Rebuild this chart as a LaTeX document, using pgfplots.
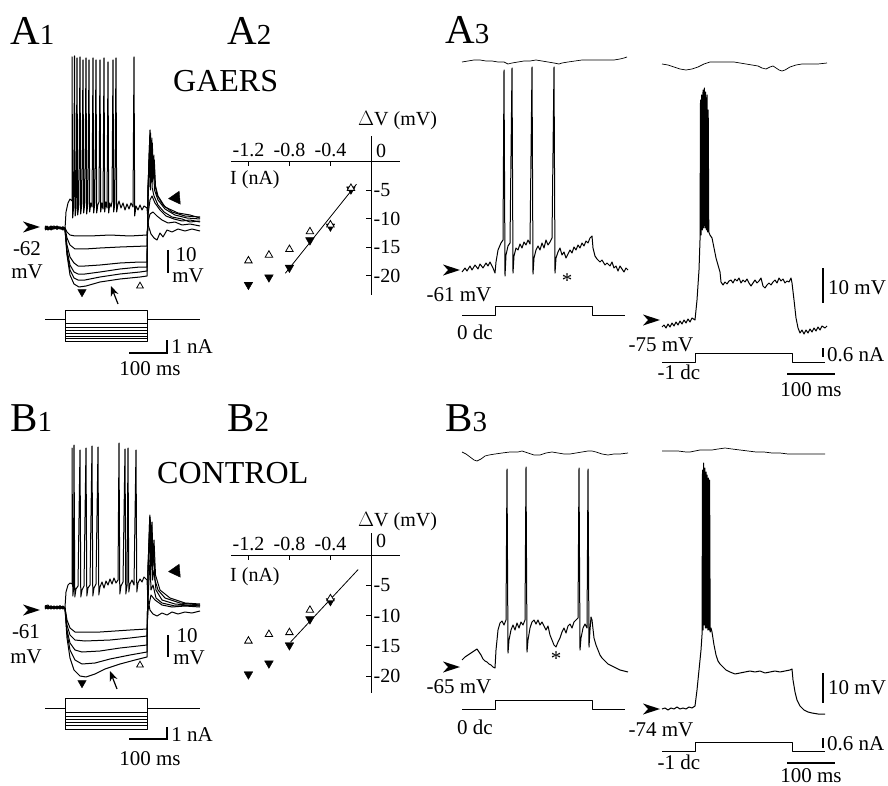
\documentclass[border=0pt]{standalone}
\usepackage{pgfplots}
\pgfplotsset{compat=1.18}
\usepackage{fontspec}
\setmainfont{Liberation Serif}
\usetikzlibrary{arrows.meta}

\newcommand\fs[1]{\fontsize{#1}{#1}\selectfont}
\newcommand\plab[2]{{\fs{41}#1}{\fs{29}#2}}

\tikzset{
  lab/.style={inner sep=0pt, font=\fs{21}},
  uparr/.style={-{Stealth[length=10pt,width=8pt]}, line width=1.2pt},
  sbar/.style={line width=2pt},
}
\pgfplotsset{
  trace/.style={black, line width=1pt, line join=round, no marks},
  stim/.style={black, line width=0.7pt, line join=round, no marks},
  opentri/.style={only marks, mark=triangle*, mark size=4.3pt, mark options={line width=0.8pt, fill=white, draw=black}},
  fulltri/.style={only marks, mark=triangle*, mark size=5pt, mark options={rotate=180, fill=black, draw=black}},
  iv/.style={x=102.5pt, xmin=-1.37, xmax=0.28,
    axis lines=middle, axis line style={-, line width=0.8pt},
    major tick length=0pt,
    xtick={-1.2,-0.8,-0.4}, xticklabels={-1.2,-0.8,-0.4},
    ytick={-20,-15,-10,-5}, yticklabels={-20,-15,-10,-5},
    xticklabel style={anchor=south, font=\fs{20}, inner sep=1pt, yshift=3pt},
    yticklabel style={anchor=west, font=\fs{20}, inner sep=2pt},
    clip=false},
}

\begin{document}
\begin{tikzpicture}
\begin{axis}[at={(0,0)}, anchor=south west, scale only axis,
  width=888pt, height=786pt, xmin=0, xmax=888, ymin=0, ymax=786,
  y dir=reverse, hide axis, clip=false]
\path (axis cs:0,0) rectangle (axis cs:888,786);

% ---------- labels ----------
\node[anchor=base west, inner sep=0pt] at (axis cs:10,45) {\plab{A}{1}};
\node[anchor=base west, inner sep=0pt] at (axis cs:227,45) {\plab{A}{2}};
\node[anchor=base west, inner sep=0pt] at (axis cs:445,44) {\plab{A}{3}};
\node[anchor=base west, inner sep=0pt] at (axis cs:10,431) {\plab{B}{1}};
\node[anchor=base west, inner sep=0pt] at (axis cs:227,431) {\plab{B}{2}};
\node[anchor=base west, inner sep=0pt] at (axis cs:445,431) {\plab{B}{3}};
\node[anchor=base west, inner sep=0pt, font=\fs{32}] at (axis cs:173,92) {GAERS};
\node[anchor=base west, inner sep=0pt, font=\fs{32}] at (axis cs:157,483) {CONTROL};

% ---------- A1 ----------
\addplot[trace] coordinates {(45,228)(47,226)(49,229)(51,227)(53,229)(55,227)(57,229)(59,227)(61,229)(63,227)(65,229)
(66,212)(68,203)(70,199)(72,201)
(72,57)(72.7,218)(73.7,206)(74.5,56)(75.2,216)(76.2,207)(77,58)(77.7,215)(78.8,205)(80,57)(80.7,214)(81.8,204)
(83,60)(83.7,213)(84.8,203)(86,58)(86.7,214)(87.8,204)(89,60)(89.7,212)(90.8,203)(92,207)(93,58)(93.7,213)(94.8,203)
(96,60)(96.7,213)(97.8,205)(99,202)(100,60)(100.7,212)(101.8,203)(103,209)(104,58)(104.7,212)(105.8,202)(107,208)
(108,62)(108.7,213)(109.8,203)(111,207)(112,202)(113,60)(113.7,212)(114.8,204)(116,58)(116.7,212)(117.8,205)(119,201)
(121,208)(123,203)(125,210)(127,204)(129,209)(131,203)(133,207)(134,57)(134.7,216)(136,206)(138,210)(140,205)(142,210)(144,206)(147,208)
(148.5,226)(151,234)(154,238)(157,240)(160,233)(163,237)(167,230)(172,232)(178,229)(185,231)(192,229)(200,231)};
\addplot[trace] coordinates {(45,226)(48,228)(51,226)(54,228)(57,226)(60,228)(63,227)(65,228)(67,232)(70,235)(75,236)(90,236)(110,235)(130,236)(147,235)
(148,222)(150,214)(153,212)(157,216)(162,220)(168,223)(175,222)(182,225)(190,224)(200,226)};
\addplot[trace] coordinates {(45,229)(48,227)(51,229)(54,227)(57,229)(60,227)(63,229)(65,228)(67,238)(70,245)(75,249)(85,249)(100,248)(120,247)(147,246)
(148,215)(150,200)(152,196)(155,203)(160,210)(166,216)(174,219)(182,221)(190,220)(200,222)};
\addplot[trace] coordinates {(45,227)(48,229)(51,227)(54,226)(57,228)(60,227)(63,229)(65,229)(67,245)(70,257)(74,263)(78,266)(85,266)(100,265)(120,263)(140,262)(147,262)
(148,205)(149.5,150)(150.3,190)(151.2,160)(152.2,188)(154,196)(158,205)(164,212)(172,217)(182,219)(190,222)(200,221)};
\addplot[trace] coordinates {(45,230)(48,228)(51,229)(54,227)(57,229)(60,228)(63,227)(65,229)(67,250)(70,265)(74,272)(78,274)(85,274)(100,272)(120,269)(140,267)(147,267)
(148,195)(149.8,135)(150.6,180)(151.5,148)(152.4,182)(153.4,165)(154.5,190)(158,200)(165,209)(175,215)(187,218)(200,219)};
\addplot[trace] coordinates {(45,228)(48,230)(51,228)(54,229)(57,227)(60,229)(63,228)(65,229)(67,253)(70,270)(74,278)(78,280)(85,280)(100,277)(120,274)(140,272)(147,271)
(148,190)(150,130)(150.8,172)(151.8,138)(152.8,175)(153.8,155)(155,185)(157,195)(163,205)(172,212)(185,216)(200,217)};
\addplot[trace] coordinates {(45,229)(48,227)(51,230)(54,228)(57,229)(60,228)(63,230)(65,229)(67,255)(70,275)(74,284)(79,287)(86,286)(100,282)(120,279)(140,277)(147,276)
(148,185)(150.5,133)(151.3,168)(152.3,143)(153.3,172)(154.3,160)(155.5,186)(158,196)(165,207)(178,213)(190,215)(200,218)};
% stimulus
\addplot[stim] coordinates {(45,319)(65,319)};
\addplot[stim] coordinates {(147,319)(200,319)};
\addplot[stim] coordinates {(65,341)(65,310)(147,310)(147,341)(65,341)};
\addplot[stim] coordinates {(65,323)(147,323)};
\addplot[stim] coordinates {(65,327)(147,327)};
\addplot[stim] coordinates {(65,330)(147,330)};
\addplot[stim] coordinates {(65,333)(147,333)};
\addplot[stim] coordinates {(65,336)(147,336)};
\addplot[stim] coordinates {(65,338.5)(147,338.5)};
% markers
\addplot[fulltri, mark size=4.8pt] coordinates {(82,292)};
\addplot[opentri, mark size=3.8pt] coordinates {(140,286)};
\addplot[only marks, mark=triangle*, mark size=7.5pt, mark options={rotate=95, fill=black}] coordinates {(176,198)};
\draw[uparr] (axis cs:118,304) -- (axis cs:111,286);
\fill (axis cs:23,221.5) -- (axis cs:40,227) -- (axis cs:23,232.5) -- (axis cs:28,227) -- cycle;
\node[lab] at (axis cs:27,249) {-62};
\node[lab] at (axis cs:27,272) {mV};
\draw[sbar] (axis cs:168,250) -- (axis cs:168,273);
\node[lab] at (axis cs:186,255) {10};
\node[lab] at (axis cs:188,276) {mV};
\draw[sbar] (axis cs:129,353) -- (axis cs:167,353) -- (axis cs:167,340);
\node[lab] at (axis cs:192,347) {1 nA};
\node[lab] at (axis cs:150,369) {100 ms};

% ---------- B1 ----------
\addplot[trace] coordinates {(45,606)(48,605)(51,608)(54,606)(57,608)(60,606)(63,608)(65,607)
(66,592)(68,585)(70,583)(72,584)
(72,448)(72.8,596)(73.5,590)(74,445)(74.8,597)(76,589)(78,586)(80,450)(80.8,597)(82,590)(84,586)(86,448)(86.8,596)(88,588)(90,585)
(92,446)(92.8,596)(94,588)(96,584)(98,447)(98.8,595)(100,587)(102,582)(104,588)(106,581)(108,585)(110,579)(112,584)(114,578)(116,583)(118,580)
(119,443)(119.8,594)(121,586)(123,582)(125,449)(125.8,594)(127,586)(128,448)(128.8,592)(130,584)(132,580)(134,585)
(136,450)(136.8,592)(138,583)(140,579)(142,582)(144,577)(147,580)
(148,600)(150,610)(153,614)(157,616)(162,613)(167,615)(172,612)(178,614)(185,612)(192,613)(200,611)};
\addplot[trace] coordinates {(45,608)(48,606)(51,608)(54,607)(57,608)(60,606)(63,608)(65,608)(67,620)(70,628)(75,632)(100,632)(130,630)(147,629)
(148,610)(151,595)(155,600)(162,605)(172,607)(185,606)(200,607)};
\addplot[trace] coordinates {(45,606)(48,608)(51,606)(54,608)(57,606)(60,608)(63,606)(65,608)(67,625)(70,635)(75,640)(85,641)(110,640)(130,638)(147,636)
(148,600)(150,560)(151,590)(153,585)(156,598)(162,603)(175,606)(200,605)};
\addplot[trace] coordinates {(45,609)(48,607)(51,609)(54,607)(57,609)(60,607)(63,609)(65,608)(67,630)(70,643)(75,650)(82,652)(100,651)(120,648)(147,645)
(148,580)(149.5,525)(150.5,575)(151.5,540)(152.5,580)(154,570)(156,590)(162,600)(175,604)(200,606)};
\addplot[trace] coordinates {(45,607)(48,609)(51,607)(54,609)(57,607)(60,609)(63,607)(65,608)(67,633)(70,650)(75,660)(82,664)(95,663)(110,659)(130,655)(147,652)
(148,570)(149.8,515)(150.7,565)(151.7,525)(152.7,570)(153.7,545)(155,580)(158,590)(165,598)(180,603)(200,605)};
\addplot[trace] coordinates {(45,606)(48,608)(51,606)(54,608)(57,607)(60,606)(63,608)(65,608)(67,638)(70,658)(74,670)(80,676)(86,677)(95,674)(105,669)(120,664)(135,660)(147,657)
(148,565)(150.2,517)(151,560)(152,522)(153,565)(154,540)(155.5,575)(160,590)(170,598)(185,603)(200,604)};
\addplot[stim] coordinates {(45,708)(65,708)};
\addplot[stim] coordinates {(147,708)(200,708)};
\addplot[stim] coordinates {(65,729)(65,698)(147,698)(147,729)(65,729)};
\addplot[stim] coordinates {(65,712)(147,712)};
\addplot[stim] coordinates {(65,716)(147,716)};
\addplot[stim] coordinates {(65,719)(147,719)};
\addplot[stim] coordinates {(65,722)(147,722)};
\addplot[stim] coordinates {(65,725)(147,725)};
\addplot[fulltri, mark size=4.8pt] coordinates {(82,683)};
\addplot[opentri, mark size=3.8pt] coordinates {(140,665)};
\addplot[only marks, mark=triangle*, mark size=7.5pt, mark options={rotate=95, fill=black}] coordinates {(176,571)};
\draw[uparr] (axis cs:117,689) -- (axis cs:110,671);
\fill (axis cs:23,604.5) -- (axis cs:40,610) -- (axis cs:23,615.5) -- (axis cs:28,610) -- cycle;
\node[lab] at (axis cs:26,632) {-61};
\node[lab] at (axis cs:26,657) {mV};
\draw[sbar] (axis cs:168,635) -- (axis cs:168,657);
\node[lab] at (axis cs:187,636) {10};
\node[lab] at (axis cs:189,658) {mV};
\draw[sbar] (axis cs:129,739) -- (axis cs:167,739) -- (axis cs:167,727);
\node[lab] at (axis cs:192,735) {1 nA};
\node[lab] at (axis cs:150,759) {100 ms};

% ---------- A2 / B2 text ----------
\node[lab, font=\fs{20}, anchor=west] at (axis cs:358,121) {$\Delta$V (mV)};
\node[lab, font=\fs{20}, anchor=west] at (axis cs:230,180) {I (nA)};
\node[lab, font=\fs{20}] at (axis cs:381,151) {0};
\node[lab, font=\fs{20}, anchor=west] at (axis cs:358,522) {$\Delta$V (mV)};
\node[lab, font=\fs{20}, anchor=west] at (axis cs:230,577) {I (nA)};
\node[lab, font=\fs{20}] at (axis cs:381,541) {0};

% ---------- A3 left ----------
\addplot[stim] coordinates {(462,62)(468,61)(474,60)(480,60)(486,61)(492,61)(498,62)(504,62)(508,64)(512,63)(518,62)(524,61)(530,61)(536,60)(542,61)(548,62)(554,63)(559,64)(562,63)(568,62)(575,61)(582,60)(590,60)(598,60)(606,60)(614,60)(620,59)(624,58)(627,57)};
\addplot[trace] coordinates {(462,272)(465,268)(467,271)(470,266)(472,270)(475,265)(478,269)(480,264)(483,268)(486,263)(488,266)(490,262)(493,268)(495,273)
(496,262)(498,250)(501,243)(503,240)(504,70)(505,276)(506,255)(508,246)(510,243)(512,68)(513,273)(514,256)(516,248)(518,250)(520,244)(522,248)(524,242)(526,245)(528,240)(530,244)
(532,67)(533,274)(534,258)(536,250)(538,246)(540,250)(542,243)(544,248)(546,240)(548,245)(550,242)(552,238)(554,67)(555,273)(556,258)(558,252)(560,248)(562,255)(564,252)(566,258)(568,254)(570,250)(572,253)(574,247)(576,250)(578,245)(580,248)(582,243)(584,246)(586,241)(588,243)(590,238)(592,236)
(593,248)(595,256)(597,259)(600,262)(602,260)(605,265)(607,263)(610,266)(612,262)(614,268)(616,266)(618,271)(620,266)(622,269)(624,272)(626,268)(628,270)};
\addplot[stim] coordinates {(462,315)(495,315)(495,306)(592,306)(592,315)(625,315)};
\fill (axis cs:443,264.5) -- (axis cs:460,270) -- (axis cs:443,275.5) -- (axis cs:448,270) -- cycle;
\node[lab] at (axis cs:459,295) {-61 mV};
\node[lab] at (axis cs:475,332) {0 dc};
\node[lab] at (axis cs:567,281) {*};

% ---------- A3 right ----------
\addplot[stim] coordinates {(662,64)(668,65)(674,67)(680,69)(686,70)(692,69)(698,67)(704,64)(710,62)(716,62)(722,62)(728,62)(734,62)(740,63)(746,64)(752,65)(758,66)(762,68)(766,69)(770,67)(773,66)(776,68)(779,70)(782,71)(785,70)(790,67)(796,65)(802,64)(810,64)(818,64)(827,63)};
\addplot[trace] coordinates {(662,327)(664,325)(666,328)(668,324)(670,327)(672,323)(674,326)(676,322)(678,325)(680,321)(682,324)(684,320)(686,323)(688,319)(690,322)(692,318)(695,320)
(697,300)(699,270)(700,240)(700.5,100)(701,235)(701.7,95)(702.3,230)(703,90)(703.6,228)(704.3,88)(705,228)(705.7,92)(706.4,230)(707,95)(707.6,232)(708.2,110)(708.8,232)
(710,235)(712,238)(714,248)(716,258)(718,265)(720,272)(721,282)(723,285)(725,282)(727,284)(729,281)(731,280)(733,283)(735,279)(737,281)(739,278)(741,283)(743,280)(745,282)(747,279)(749,283)(751,286)(753,283)(755,280)(757,283)(759,281)(761,278)(763,286)(765,288)(767,285)(769,283)(771,285)(773,282)(775,280)(777,283)(779,278)(781,281)(783,279)(785,283)(787,281)(789,282)(791,278)(792,283)
(794,300)(796,318)(798,328)(800,333)(802,330)(804,334)(806,330)(808,333)(810,329)(812,332)(814,328)(816,331)(818,327)(820,330)(822,326)(825,328)(827,326)};
\addplot[stim] coordinates {(662,362)(695,362)(695,353)(792,353)(792,362)(825,362)};
\fill (axis cs:643,314.5) -- (axis cs:660,320) -- (axis cs:643,325.5) -- (axis cs:648,320) -- cycle;
\node[lab] at (axis cs:661,345) {-75 mV};
\node[lab] at (axis cs:679,372) {-1 dc};
\draw[sbar] (axis cs:823,268) -- (axis cs:823,303);
\node[lab, anchor=west] at (axis cs:828,288) {10 mV};
\draw[sbar] (axis cs:823,348) -- (axis cs:823,357);
\node[lab, anchor=west] at (axis cs:827,355) {0.6 nA};
\draw[sbar] (axis cs:787,374) -- (axis cs:835,374);
\node[lab] at (axis cs:811,390) {100 ms};

% ---------- B3 left ----------
\addplot[stim] coordinates {(462,452)(466,454)(470,457)(474,460)(477,461)(481,459)(485,456)(489,455)(495,454)(502,453)(510,452)(518,452)(522,451)(528,453)(534,455)(540,455)(546,453)(552,452)(558,453)(564,454)(570,454)(576,453)(582,452)(588,451)(592,451)(596,452)(602,454)(608,455)(614,454)(620,454)(628,453)};
\addplot[trace] coordinates {(462,660)(465,657)(468,655)(471,653)(474,651)(477,649)(479,652)(481,655)(483,659)(485,661)(487,662)(489,664)(491,665)(493,667)(495,668)
(496,650)(498,630)(500,623)(502,621)(504,625)(506,620)(507,469)(508,653)(509,640)(511,630)(513,625)(515,630)(517,623)(519,628)(521,622)(523,625)(525,620)
(526,467)(527,652)(528,640)(530,628)(532,622)(534,620)(536,624)(538,620)(540,625)(542,622)(544,626)(546,630)(548,626)(550,635)(552,640)(554,645)(556,647)(558,642)(560,638)(562,632)(564,628)(566,633)(568,626)(570,624)(572,628)(574,622)(576,620)(578,618)
(579,468)(580,650)(581,638)(583,628)(585,624)(587,628)(588,469)(589,647)(590,630)(591,617)(592,620)(594,638)(596,645)(598,650)(600,655)(602,658)(605,661)(608,664)(612,666)(616,668)(620,670)(624,671)(628,672)};
\addplot[stim] coordinates {(462,709)(495,709)(495,700)(592,700)(592,709)(625,709)};
\fill (axis cs:443,661.5) -- (axis cs:460,667) -- (axis cs:443,672.5) -- (axis cs:448,667) -- cycle;
\node[lab] at (axis cs:459,687) {-65 mV};
\node[lab] at (axis cs:475,727) {0 dc};
\node[lab] at (axis cs:556,659) {*};

% ---------- B3 right ----------
\addplot[stim] coordinates {(662,451)(670,451)(678,451)(686,452)(690,452)(695,451)(700,450)(706,450)(712,450)(718,449)(725,448)(732,449)(740,450)(748,451)(756,452)(764,452)(772,453)(780,453)(788,454)(796,454)(804,454)(812,454)(825,454)};
\addplot[trace] coordinates {(662,709)(665,708)(668,710)(671,708)(674,709)(677,707)(680,709)(683,708)(686,709)(689,707)(692,708)(695,706)
(697,690)(699,670)(701,650)(702,635)(702.5,470)(703,630)(703.6,463)(704.2,625)(704.8,468)(705.4,628)(706,472)(706.6,628)(707.2,475)(707.8,630)(708.4,478)(709,630)(709.6,480)(710.2,632)
(711,628)(712,632)(714,645)(716,655)(718,661)(720,664)(723,667)(726,670)(730,672)(735,674)(740,673)(745,672)(750,671)(755,672)(760,671)(765,673)(770,672)(775,671)(780,672)(785,671)(790,670)(792,669)
(793,680)(795,692)(797,700)(800,706)(804,710)(808,712)(812,713)(818,714)(825,714)};
\addplot[stim] coordinates {(662,751)(695,751)(695,742)(792,742)(792,751)(825,751)};
\fill (axis cs:643,703.5) -- (axis cs:660,709) -- (axis cs:643,714.5) -- (axis cs:648,709) -- cycle;
\node[lab] at (axis cs:661,730) {-74 mV};
\node[lab] at (axis cs:679,762) {-1 dc};
\draw[sbar] (axis cs:823,673) -- (axis cs:823,703);
\node[lab, anchor=west] at (axis cs:828,688) {10 mV};
\draw[sbar] (axis cs:823,738) -- (axis cs:823,748);
\node[lab, anchor=west] at (axis cs:827,744) {0.6 nA};
\draw[sbar] (axis cs:787,763) -- (axis cs:835,763);
\node[lab] at (axis cs:811,776) {100 ms};
\end{axis}

% ---------- A2 ----------
\begin{axis}[iv, at={(231pt,491pt)}, anchor=south west, y=5.71pt, ymin=-23.4, ymax=4.5]
\pgfplotsinvokeforeach{-1.2,-0.8,-0.4}{\draw[line width=0.8pt] (axis cs:#1,0) -- ++(0pt,-5pt);}
\pgfplotsinvokeforeach{-5,-10,-15,-20}{\draw[line width=0.8pt] (axis cs:0,#1) -- ++(-5pt,0pt);}
\addplot[opentri] coordinates {(-1.2,-17.4)(-1.0,-16.4)(-0.8,-15.4)(-0.6,-12.3)};
\addplot[black, line width=0.8pt, no marks] coordinates {(-0.84,-19.6)(-0.146,-4.0)};
\addplot[fulltri] coordinates {(-1.2,-21.6)(-1.0,-20.3)(-0.8,-18.6)(-0.6,-13.8)(-0.4,-11.4)(-0.2,-4.9)};
\addplot[opentri] coordinates {(-0.4,-11.1)(-0.2,-4.7)};
\end{axis}

% ---------- B2 ----------
\begin{axis}[iv, at={(231pt,93pt)}, anchor=south west, y=6.05pt, ymin=-22.8, ymax=3.64]
\pgfplotsinvokeforeach{-1.2,-0.8,-0.4}{\draw[line width=0.8pt] (axis cs:#1,0) -- ++(0pt,-5pt);}
\pgfplotsinvokeforeach{-5,-10,-15,-20}{\draw[line width=0.8pt] (axis cs:0,#1) -- ++(-5pt,0pt);}
\addplot[opentri] coordinates {(-1.2,-14.2)(-1.0,-13.1)(-0.8,-12.8)(-0.6,-9.1)};
\addplot[black, line width=0.8pt, no marks] coordinates {(-0.79,-14.4)(-0.13,-2.4)};
\addplot[fulltri] coordinates {(-1.2,-19.7)(-1.0,-17.9)(-0.8,-14.9)(-0.6,-10.6)(-0.4,-7.6)};
\addplot[opentri] coordinates {(-0.4,-7.2)};
\end{axis}
\end{tikzpicture}
\end{document}
